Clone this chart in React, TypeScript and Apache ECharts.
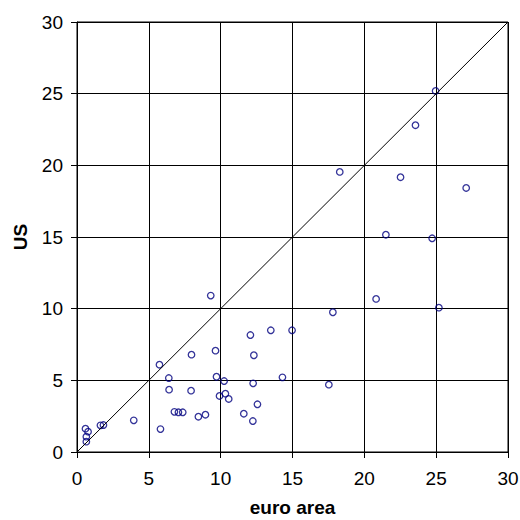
import React, { useEffect, useRef } from "react";
import * as echarts from "echarts";

const euroArea = [
  24.96, 23.56, 18.29, 22.52, 27.09, 21.5, 24.72, 20.82, 17.81, 25.19,
  9.31, 12.07, 13.49, 14.97, 9.64, 7.97, 12.31, 5.74, 6.39, 9.71,
  10.24, 14.3, 17.53, 6.41, 7.94, 12.26, 9.92, 10.33, 10.56, 12.56,
  6.78, 7.06, 7.36, 8.45, 8.94, 11.61, 12.24, 5.81, 0.59, 0.77,
  0.65, 0.65, 1.63, 1.84, 3.95,
];
const us = [
  25.19, 22.8, 19.54, 19.17, 18.42, 15.16, 14.91, 10.68, 9.75, 10.07,
  10.91, 8.16, 8.49, 8.49, 7.07, 6.79, 6.75, 6.09, 5.16, 5.25,
  4.95, 5.21, 4.7, 4.35, 4.28, 4.79, 3.91, 4.07, 3.7, 3.33,
  2.8, 2.77, 2.77, 2.46, 2.6, 2.67, 2.16, 1.6, 1.63, 1.42,
  1.07, 0.72, 1.86, 1.88, 2.21,
];
const diagonal = [
  [0, 0],
  [30, 30],
];
const xAxisName = "euro area";
const yAxisName = "US";

export default function App() {
  const ref = useRef<HTMLDivElement>(null);
  useEffect(() => {
    if (!ref.current) return;
    const chart = echarts.init(ref.current, null, { renderer: "svg" });
    const font = "'Liberation Sans', Arial, sans-serif";
    const axisCommon = {
      type: "value",
      min: 0,
      max: 30,
      interval: 5,
      axisLine: { show: true, onZero: false, lineStyle: { color: "#000", width: 1 } },
      axisTick: { show: true, inside: false, length: 6, lineStyle: { color: "#000" } },
      splitLine: { show: true, lineStyle: { color: "#000", width: 1 } },
      nameLocation: "middle",
      nameTextStyle: { color: "#000", fontSize: 19, fontWeight: "bold", fontFamily: font },
    };
    chart.setOption({
      animation: false,
      backgroundColor: "#fff",
      grid: {
        left: 77,
        right: 12,
        top: 22,
        bottom: 68,
        show: true,
        borderColor: "#000",
        borderWidth: 1,
        containLabel: false,
        outerBoundsMode: "none",
      },
      xAxis: {
        ...axisCommon,
        name: xAxisName,
        nameGap: 46,
        axisLabel: { color: "#000", fontSize: 19, fontFamily: font, margin: 17 },
      },
      yAxis: {
        ...axisCommon,
        name: yAxisName,
        nameGap: 47,
        axisLabel: { color: "#000", fontSize: 19, fontFamily: font, margin: 14 },
      },
      series: [
        {
          type: "line",
          data: diagonal,
          symbol: "none",
          lineStyle: { color: "#000", width: 1 },
          silent: true,
        },
        {
          type: "scatter",
          data: euroArea.map((x, i) => [x, us[i]]),
          symbol: "circle",
          symbolSize: 6.5,
          itemStyle: { color: "rgba(0,0,0,0)", borderColor: "#000080", borderWidth: 1.3 },
        },
      ],
    });
    return () => chart.dispose();
  }, []);
  return (
    <div
      ref={ref}
      style={{ position: "fixed", left: 0, top: 0, width: 520, height: 520 }}
    />
  );
}
